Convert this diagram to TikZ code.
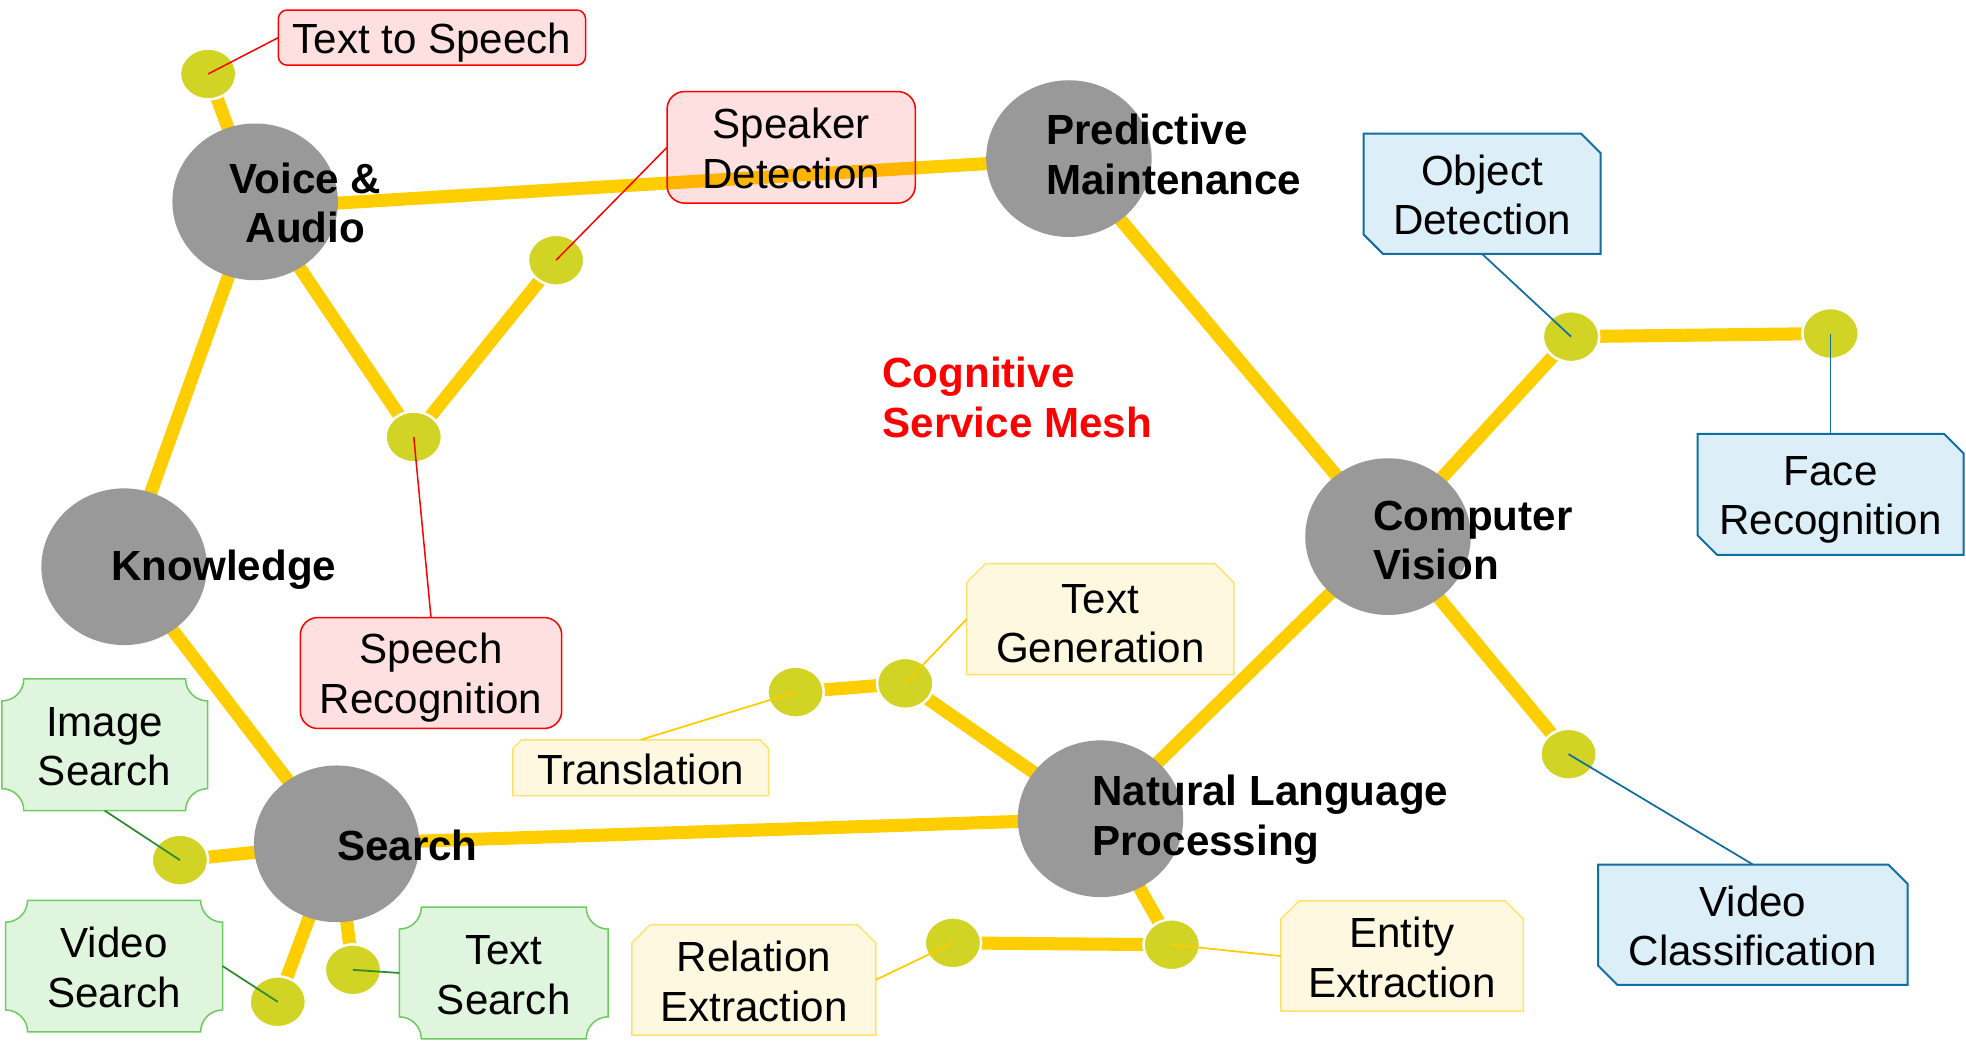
\documentclass[tikz,border=0pt]{standalone}
\usepackage{fontspec}
\setmainfont{Liberation Sans}
\usetikzlibrary{shapes.geometric}
\pgfdeclarelayer{bg}
\pgfsetlayers{bg,main}
\definecolor{nodegray}{RGB}{153,153,153}
\definecolor{meshyel}{RGB}{255,206,0}
\definecolor{dotcol}{RGB}{209,212,36}
\definecolor{grfill}{RGB}{224,245,222}
\definecolor{grline}{RGB}{108,204,96}
\definecolor{grconn}{RGB}{46,140,46}
\definecolor{yefill}{RGB}{255,248,224}
\definecolor{yeline}{RGB}{255,226,110}
\definecolor{yeconn}{RGB}{255,204,0}
\definecolor{blfill}{RGB}{220,238,248}
\definecolor{blline}{RGB}{16,110,160}
\newcommand{\pstrut}{\rule[-0.17em]{0pt}{1.117em}}
\newcommand{\snipTop}[6]{\draw[#1] ({#2},{#3+#6}) -- ({#2+#6},{#3}) -- ({#4-#6},{#3}) -- ({#4},{#3+#6}) -- ({#4},{#5}) -- ({#2},{#5}) -- cycle;}
\newcommand{\snipDiag}[6]{\draw[#1] ({#2},{#3}) -- ({#4-#6},{#3}) -- ({#4},{#3+#6}) -- ({#4},{#5}) -- ({#2+#6},{#5}) -- ({#2},{#5-#6}) -- cycle;}
\newcommand{\concaveBox}[6]{\draw[#1] ({#2+#6},{#3}) -- ({#4-#6},{#3}) arc[start angle=180,end angle=90,radius=#6] -- ({#4},{#5-#6}) arc[start angle=270,end angle=180,radius=#6] -- ({#2+#6},{#5}) arc[start angle=0,end angle=-90,radius=#6] -- ({#2},{#3+#6}) arc[start angle=90,end angle=0,radius=#6] -- cycle;}
\newcommand{\roundBox}[6]{\draw[#1,rounded corners=#6] (#2,#3) rectangle (#4,#5);}
\newcommand{\boxNode}[5]{\node[boxanchor, minimum width={(#4-#2)*0.5pt}, minimum height={(#5-#3)*0.5pt}] (#1) at ({(#2+#4)/2},{(#3+#5)/2}) {};}
\begin{document}
\begin{tikzpicture}[x=0.5pt,y=-0.5pt,
  every node/.style={font=\fontsize{16.8}{19.8}\selectfont},
  bigc/.style={ellipse, fill=nodegray, minimum width=66pt, minimum height=62.5pt, inner sep=0},
  dotn/.style={ellipse, fill=dotcol, draw=white, line width=1pt, minimum width=22.5pt, minimum height=20.3pt, inner sep=0},
  mesh/.style={draw=meshyel, line width=5.2pt},
  redbox/.style={draw=red, line width=0.6pt, fill=red, fill opacity=0.12},
  greenbox/.style={draw=grline, fill=grfill, line width=0.6pt},
  yelbox/.style={draw=yeline, fill=yefill, line width=0.6pt},
  bluebox/.style={draw=blline, fill=blfill, line width=0.8pt},
  redc/.style={draw=red, line width=0.6pt},
  greenc/.style={draw=grconn, line width=0.7pt},
  yelc/.style={draw=yeconn, line width=0.7pt},
  bluec/.style={draw=blline, line width=0.7pt},
  boxanchor/.style={rectangle, inner sep=0, outer sep=0, draw=none},
  boxtxt/.style={inner sep=0, align=center, text=black},
  boldlbl/.style={inner sep=0, align=left, font=\fontsize{16.8}{19.8}\selectfont\bfseries}]
\useasboundingbox (0,0) rectangle (1568,844.6);

% main service nodes
\node[bigc] (va) at (203.5,161) {};
\node[bigc] (pm) at (852.5,126.5) {};
\node[bigc] (cv) at (1107,428) {};
\node[bigc] (kn) at (99,452) {};
\node[bigc] (se) at (268.5,673) {};
\node[bigc] (nlp) at (877.7,653) {};

% small dots
\node[dotn] (d1) at (166,59) {};
\node[dotn] (d2) at (443.5,207.5) {};
\node[dotn] (d3) at (330,348.5) {};
\node[dotn] (d4) at (1253,268.5) {};
\node[dotn] (d5) at (1460,266) {};
\node[dotn] (d6) at (1251,601.5) {};
\node[dotn] (d7) at (634.5,552) {};
\node[dotn] (d8) at (722,545) {};
\node[dotn] (d9) at (760,752) {};
\node[dotn] (d10) at (934.5,753.5) {};
\node[dotn] (d11) at (143.5,686) {};
\node[dotn] (d12) at (221.5,799) {};
\node[dotn] (d13) at (281.5,773.5) {};

% mesh lines
\begin{pgfonlayer}{bg}
\draw[mesh] ([yshift=-2.5pt]va.center) -- (pm.center);
\draw[mesh] (va.center) -- (d1.center);
\draw[mesh] (va.center) -- (kn.center);
\draw[mesh] (va.center) -- (d3.center);
\draw[mesh] (d3.center) -- (d2.center);
\draw[mesh] (pm.center) -- (cv.center);
\draw[mesh] (cv.center) -- (d4.center);
\draw[mesh] (d4.center) -- (d5.center);
\draw[mesh] (cv.center) -- (d6.center);
\draw[mesh] (cv.center) -- (nlp.center);
\draw[mesh] (nlp.center) -- (d8.center);
\draw[mesh] (d8.center) -- (d7.center);
\draw[mesh] (nlp.center) -- (se.center);
\draw[mesh] (nlp.center) -- (d10.center);
\draw[mesh] (d10.center) -- (d9.center);
\draw[mesh] (kn.center) -- (se.center);
\draw[mesh] (se.center) -- (d11.center);
\draw[mesh] (se.center) -- (d12.center);
\draw[mesh] (se.center) -- (d13.center);
\end{pgfonlayer}

% bold labels
\node[boldlbl, align=center] (va-t) at (243.5,160.7) {\pstrut Voice \&\\\pstrut Audio};
\node[boldlbl, anchor=west] (pm-t) at (834,122) {\pstrut Predictive\\\pstrut Maintenance};
\node[boldlbl, anchor=west] (cv-t) at (1095,429.5) {\pstrut Computer\\\pstrut Vision};
\node[boldlbl, anchor=west] (kn-t) at (88.5,450.6) {\pstrut Knowledge};
\node[boldlbl, anchor=west] (se-t) at (268.5,672.9) {\pstrut Search};
\node[boldlbl, anchor=west] (nlp-t) at (870.9,650) {\pstrut Natural Language\\\pstrut Processing};
\node[boldlbl, anchor=west, text=red] (mesh-t) at (703.5,316) {\pstrut Cognitive\\\pstrut Service Mesh};

% red boxes
\roundBox{redbox}{222}{8}{467}{52}{3.5pt}
\boxNode{tts}{222}{8}{467}{52}
\node[boxtxt] (tts-t) at (tts.center) {\pstrut Text to Speech};
\roundBox{redbox}{532}{73}{730}{162}{7pt}
\boxNode{spk}{532}{73}{730}{162}
\node[boxtxt] (spk-t) at (spk.center) {\pstrut Speaker\\\pstrut Detection};
\roundBox{redbox}{239.5}{492.5}{448}{581}{7pt}
\boxNode{sr}{239.5}{492.5}{448}{581}
\node[boxtxt] (sr-t) at (sr.center) {\pstrut Speech\\\pstrut Recognition};

% green boxes
\concaveBox{greenbox}{1.5}{541.5}{165.5}{646.5}{17.5}
\boxNode{is}{1.5}{541.5}{165.5}{646.5}
\node[boxtxt] (is-t) at (is.center) {\pstrut Image\\\pstrut Search};
\concaveBox{greenbox}{4.5}{718}{177.5}{823}{17.5}
\boxNode{vs}{4.5}{718}{177.5}{823}
\node[boxtxt] (vs-t) at (vs.center) {\pstrut Video\\\pstrut Search};
\concaveBox{greenbox}{318.5}{723.5}{485}{828.5}{17.5}
\boxNode{ts}{318.5}{723.5}{485}{828.5}
\node[boxtxt] (ts-t) at (ts.center) {\pstrut Text\\\pstrut Search};

% yellow boxes
\snipTop{yelbox}{409}{590}{613}{634.5}{7}
\boxNode{tr}{409}{590}{613}{634.5}
\node[boxtxt] (tr-t) at (tr.center) {\pstrut Translation};
\snipTop{yelbox}{771}{449.5}{984}{538}{15}
\boxNode{tg}{771}{449.5}{984}{538}
\node[boxtxt] (tg-t) at ([yshift=-1pt]tg.center) {\pstrut Text\\\pstrut Generation};
\snipTop{yelbox}{504}{737.5}{698.5}{825.5}{14.5}
\boxNode{re}{504}{737.5}{698.5}{825.5}
\node[boxtxt] (re-t) at (re.center) {\pstrut Relation\\\pstrut Extraction};
\snipTop{yelbox}{1021.5}{718.5}{1215}{806.5}{14.5}
\boxNode{ee}{1021.5}{718.5}{1215}{806.5}
\node[boxtxt] (ee-t) at (ee.center) {\pstrut Entity\\\pstrut Extraction};

% blue boxes
\snipDiag{bluebox}{1087.5}{106.5}{1276.5}{202.5}{15.5}
\boxNode{od}{1087.5}{106.5}{1276.5}{202.5}
\node[boxtxt] (od-t) at (od.center) {\pstrut Object\\\pstrut Detection};
\snipDiag{bluebox}{1354}{346}{1566}{442.5}{15.5}
\boxNode{fr}{1354}{346}{1566}{442.5}
\node[boxtxt] (fr-t) at (fr.center) {\pstrut Face\\\pstrut Recognition};
\snipDiag{bluebox}{1274.5}{689.5}{1521.5}{785.5}{15.5}
\boxNode{vc}{1274.5}{689.5}{1521.5}{785.5}
\node[boxtxt] (vc-t) at (vc.center) {\pstrut Video\\\pstrut Classification};

% callout connectors
\draw[redc] (d1.center) -- (tts.west);
\draw[redc] (d2.center) -- (spk.west);
\draw[redc] (d3.center) -- (sr.north);
\draw[greenc] (is.south) -- (d11.center);
\draw[greenc] (vs.east) -- (d12.center);
\draw[greenc] (ts.west) -- (d13.center);
\draw[yelc] (tr.north) -- (d7.center);
\draw[yelc] (tg.west) -- (d8.center);
\draw[yelc] (re.east) -- (d9.center);
\draw[yelc] (ee.west) -- (d10.center);
\draw[bluec] (od.south) -- (d4.center);
\draw[bluec] (fr.north) -- (d5.center);
\draw[bluec] (vc.north) -- (d6.center);
\end{tikzpicture}
\end{document}
